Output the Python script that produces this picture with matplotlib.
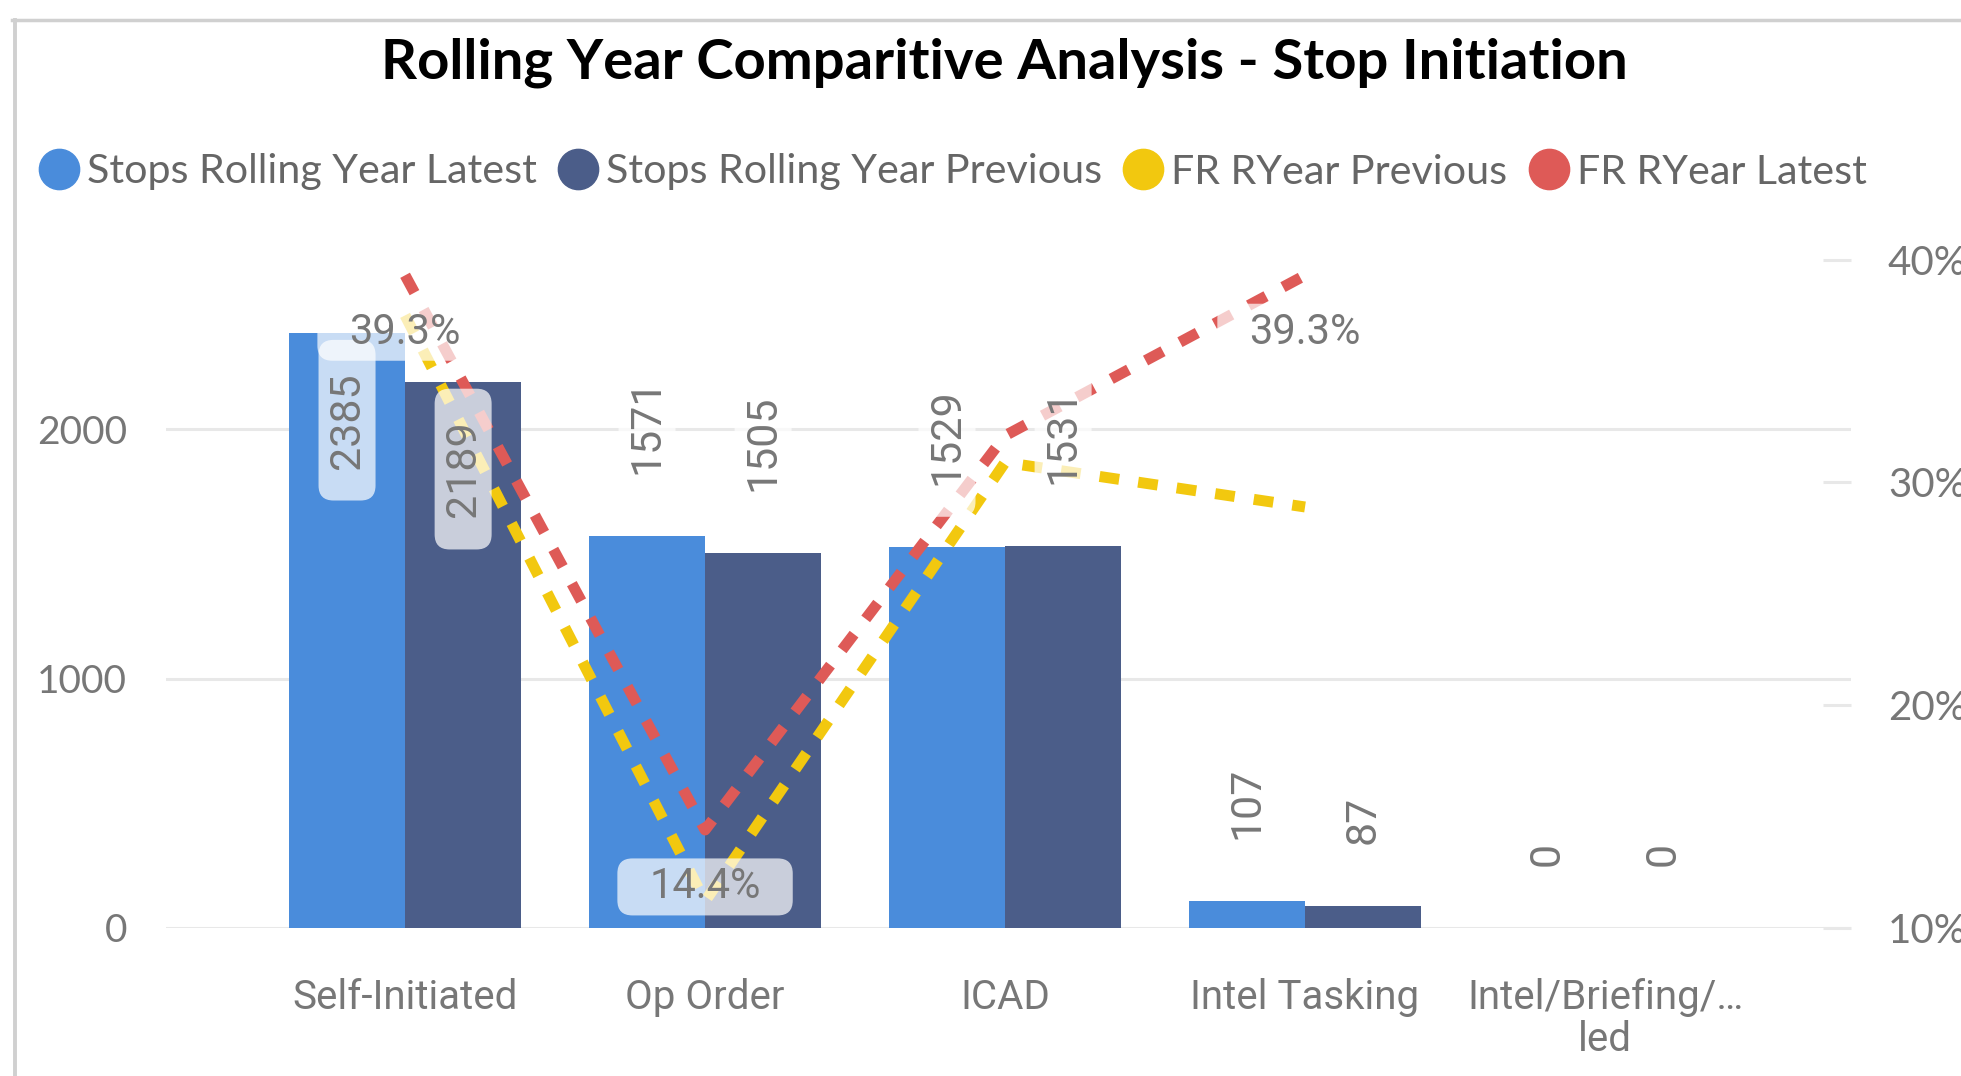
import matplotlib
matplotlib.use('Agg')
import numpy as np
import matplotlib.pyplot as plt
from matplotlib.lines import Line2D
from matplotlib.patches import FancyBboxPatch
from matplotlib.transforms import IdentityTransform

plt.rcParams['font.family'] = ['Lato', 'DejaVu Sans']

title = 'Rolling Year Comparitive Analysis - Stop Initiation'
categories = ['Self-Initiated', 'Op Order', 'ICAD', 'Intel Tasking',
              'Intel/Briefing/\u2026\nled']
series_names = ['Stops Rolling Year Latest', 'Stops Rolling Year Previous',
                'FR RYear Previous', 'FR RYear Latest']
stops_latest = [2385, 1571, 1529, 107, 0]
stops_previous = [2189, 1505, 1531, 87, 0]
fr_previous = [37.5, 11.2, 30.9, 28.9, np.nan]
fr_latest = [39.3, 14.4, 32.1, 39.3, np.nan]
fr_latest_shown = [0, 1, 3]  # labels that Power BI kept visible

BLUE = '#4A8CDB'
NAVY = '#4B5D89'
YELLOW = '#F2C80F'
RED = '#DE5A57'
GREY = '#777777'
GRID = '#E8E8E8'

W, H = 1961, 1076
fig = plt.figure(figsize=(W / 100, H / 100), dpi=100)
ax = fig.add_axes([166 / W, (H - 928) / H, (1851 - 166) / W, (928 - 259.7) / H])
ax2 = ax.twinx()

x = np.arange(len(categories))
bw = 0.387
bars_latest = ax.bar(x - bw / 2, stops_latest, bw, color=BLUE, zorder=2)
bars_prev = ax.bar(x + bw / 2, stops_previous, bw, color=NAVY, zorder=2)

ax.set_xlim(-0.797, 4.82)
ax.set_ylim(0, 2680)
ax.set_yticks([0, 1000, 2000])
ax.grid(axis='y', color=GRID, lw=2.2)
ax.set_axisbelow(True)
ax.tick_params(axis='y', length=0, pad=28, labelsize=28, labelcolor=GREY)
ax.set_xticks(x, categories)
ax.tick_params(axis='x', length=0, pad=36, labelcolor=GREY)
for lbl in ax.get_xticklabels():
    lbl.set_fontfamily('Roboto')
    lbl.set_fontsize(29)
    lbl.set_linespacing(1.1)

# percentage lines on the secondary axis
dash = (1.8, 1.75)
ax2.plot(x, fr_previous, color=YELLOW, lw=7.9, dashes=dash, zorder=2)
ax2.plot(x, fr_latest, color=RED, lw=7.9, dashes=dash, zorder=3)
ax2.set_ylim(10, 40)
ax2.set_yticks([10, 20, 30, 40], ['10%', '20%', '30%', '40%'])
ax2.tick_params(axis='y', direction='in', length=20, width=2.2, color=GRID,
                pad=26.6, labelsize=29, labelcolor=GREY)

for a in (ax, ax2):
    for s in a.spines.values():
        s.set_visible(False)

# data labels (kept on ax2 so they sit above the lines)
labels = []
for bars, vals in ((bars_latest, stops_latest), (bars_prev, stops_previous)):
    for rect, v in zip(bars, vals):
        cx = rect.get_x() + rect.get_width() / 2
        inside = v > 0.75 * ax.get_ylim()[1]
        t = ax2.annotate(str(v), xy=(cx, v), xycoords=ax.transData,
                         xytext=(0, -62.6 if inside else 44.6),
                         textcoords='offset points', rotation=90,
                         ha='center', va='center' if inside else 'bottom',
                         fontfamily='Roboto', fontsize=31, color=GREY,
                         zorder=6, annotation_clip=False)
        labels.append((t, True))

for i in fr_latest_shown:
    t = ax2.annotate(f'{fr_latest[i]:.1f}%', xy=(x[i], fr_latest[i]),
                     xytext=(0, -41), textcoords='offset points',
                     ha='center', va='center', fontfamily='Roboto',
                     fontsize=30, color=GREY, zorder=6, annotation_clip=False)
    labels.append((t, False))

# legend
handles = [Line2D([], [], ls='none', marker='o', ms=29, mfc=c, mec=c)
           for c in (BLUE, NAVY, YELLOW, RED)]
fig.legend(handles, series_names, loc='center left',
           bbox_to_anchor=(38 / W, 1 - 172 / H), ncol=4, frameon=False,
           handlelength=1.0, handletextpad=0.18, columnspacing=0.5,
           borderpad=0, borderaxespad=0, fontsize=29.7, labelcolor='#666666')

fig.text(1004.5 / W, 1 - 78 / H, title, ha='center', va='baseline',
         fontsize=40.5, fontweight='bold', color='black')

# visual border (top and left)
fig.add_artist(Line2D([12 / W, 1], [1 - 20 / H] * 2, color='#D0D0D0', lw=2.5))
fig.add_artist(Line2D([15 / W] * 2, [0, 1 - 20 / H], color='#D0D0D0', lw=2.8))

# semi-transparent rounded boxes behind the data labels
fig.canvas.draw()
renderer = fig.canvas.get_renderer()
for t, rotated in labels:
    bb = t.get_window_extent(renderer)
    px, py = (8, 32) if rotated else (32, 8)
    box = FancyBboxPatch((bb.x0 - px, bb.y0 - py), bb.width + 2 * px,
                         bb.height + 2 * py,
                         boxstyle='round,pad=0,rounding_size=15',
                         transform=IdentityTransform(), fc='white',
                         ec='none', alpha=0.7, zorder=5, clip_on=False)
    ax2.add_artist(box)

fig.savefig('out.png', dpi=100)
